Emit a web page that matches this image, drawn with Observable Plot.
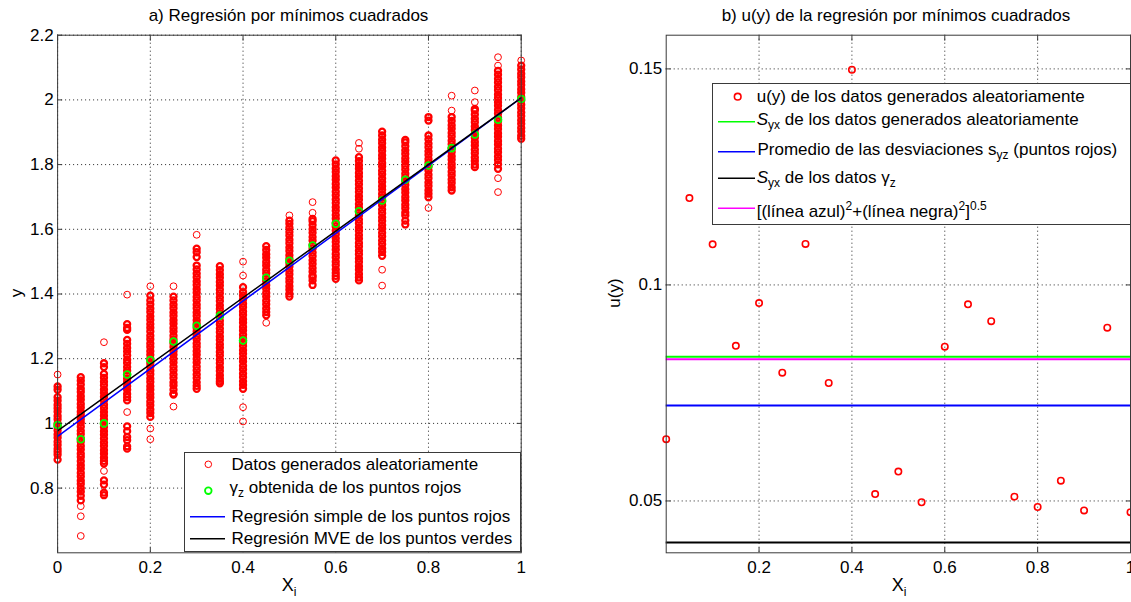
<!DOCTYPE html>
<html><head><meta charset="utf-8">
<script src="https://cdn.jsdelivr.net/npm/d3@7"></script>
<script src="https://cdn.jsdelivr.net/npm/@observablehq/plot@0.6"></script>
<style>
html,body{margin:0;padding:0;background:#fff;}
#root{position:relative;width:1131px;height:602px;overflow:hidden;font-family:"Liberation Sans",Arial,sans-serif;font-size:17px;color:#000;}
.t{position:absolute;white-space:nowrap;line-height:20px;height:20px;}
.box{position:absolute;background:#fff;border:1px solid #3a3a3a;box-sizing:border-box;}
sub,sup{font-size:12px;line-height:0;}
.plotwrap{position:absolute;top:0;}
</style></head><body><div id="root"></div>
<script>
// ---------------- data ----------------
const xVals = [0,0.05,0.1,0.15,0.2,0.25,0.3,0.35,0.4,0.45,0.5,0.55,0.6,0.65,0.7,0.75,0.8,0.85,0.9,0.95,1];
const redY = [
 [1.151,1.114,1.104,1.081,1.07,1.057,1.047,1.036,1.023,1.013,1.0,0.99,0.978,0.966,0.956,0.943,0.933,0.921,0.912,0.903,0.888],
 [1.143,1.132,1.12,1.107,1.097,1.084,1.073,1.06,1.049,1.036,1.026,1.013,1.002,0.99,0.977,0.967,0.954,0.943,0.93,0.919,0.906,0.896,0.883,0.871,0.86,0.847,0.836,0.823,0.813,0.8,0.789,0.776,0.762,0.744,0.713,0.652],
 [1.251,1.186,1.174,1.153,1.141,1.129,1.118,1.105,1.094,1.082,1.071,1.058,1.047,1.035,1.024,1.012,1.0,0.989,0.976,0.965,0.953,0.941,0.93,0.917,0.906,0.894,0.884,0.876,0.853,0.824,0.811,0.786,0.778],
 [1.398,1.307,1.295,1.289,1.258,1.246,1.233,1.222,1.21,1.197,1.187,1.174,1.163,1.151,1.138,1.128,1.115,1.104,1.091,1.081,1.071,1.035,0.991,0.976,0.958,0.948,0.929,0.922],
 [1.424,1.395,1.38,1.368,1.355,1.344,1.331,1.32,1.307,1.296,1.284,1.271,1.26,1.247,1.236,1.223,1.212,1.2,1.187,1.176,1.163,1.152,1.139,1.128,1.115,1.104,1.091,1.08,1.067,1.056,1.043,1.032,1.02,0.984,0.951],
 [1.424,1.392,1.38,1.367,1.356,1.343,1.332,1.319,1.308,1.295,1.284,1.271,1.26,1.247,1.236,1.223,1.212,1.199,1.188,1.175,1.164,1.151,1.14,1.127,1.117,1.104,1.092,1.089,1.052],
 [1.583,1.54,1.529,1.514,1.488,1.476,1.463,1.452,1.439,1.428,1.415,1.404,1.391,1.38,1.367,1.356,1.343,1.332,1.319,1.308,1.295,1.284,1.271,1.26,1.247,1.236,1.223,1.212,1.199,1.188,1.175,1.164,1.151,1.14,1.127,1.116,1.107],
 [1.486,1.474,1.461,1.45,1.437,1.426,1.413,1.402,1.389,1.378,1.365,1.354,1.341,1.33,1.317,1.306,1.293,1.282,1.269,1.258,1.245,1.234,1.221,1.21,1.197,1.186,1.173,1.162,1.149,1.138,1.13,1.124],
 [1.5,1.457,1.421,1.406,1.395,1.383,1.37,1.359,1.346,1.335,1.322,1.311,1.298,1.287,1.274,1.263,1.25,1.239,1.226,1.215,1.202,1.191,1.178,1.167,1.154,1.143,1.13,1.119,1.107,1.05,1.006],
 [1.548,1.536,1.523,1.512,1.499,1.488,1.475,1.464,1.451,1.44,1.427,1.416,1.403,1.392,1.379,1.368,1.355,1.344,1.334,1.311],
 [1.643,1.627,1.617,1.605,1.592,1.581,1.568,1.557,1.544,1.533,1.52,1.509,1.496,1.485,1.472,1.461,1.448,1.437,1.424,1.413,1.401,1.392],
 [1.684,1.651,1.632,1.625,1.613,1.6,1.589,1.576,1.565,1.552,1.541,1.528,1.517,1.504,1.493,1.48,1.469,1.457,1.452,1.442,1.428],
 [1.813,1.801,1.788,1.777,1.764,1.753,1.74,1.729,1.716,1.705,1.692,1.681,1.668,1.657,1.644,1.633,1.62,1.609,1.596,1.585,1.572,1.561,1.548,1.537,1.524,1.513,1.5,1.489,1.476,1.465,1.456,1.447],
 [1.867,1.849,1.823,1.811,1.798,1.787,1.774,1.763,1.75,1.739,1.726,1.715,1.702,1.691,1.678,1.667,1.654,1.643,1.63,1.619,1.606,1.595,1.582,1.571,1.558,1.547,1.534,1.523,1.51,1.499,1.486,1.475,1.462,1.451,1.442],
 [1.902,1.89,1.877,1.866,1.853,1.842,1.829,1.818,1.805,1.794,1.781,1.77,1.757,1.746,1.733,1.722,1.709,1.698,1.685,1.674,1.661,1.65,1.637,1.626,1.613,1.602,1.589,1.578,1.565,1.554,1.541,1.53,1.518,1.475,1.426],
 [1.876,1.869,1.857,1.844,1.833,1.82,1.809,1.796,1.785,1.772,1.761,1.748,1.737,1.724,1.713,1.7,1.689,1.676,1.665,1.652,1.643,1.627,1.615],
 [1.947,1.936,1.89,1.878,1.865,1.854,1.841,1.83,1.817,1.806,1.793,1.782,1.769,1.758,1.745,1.734,1.721,1.71,1.699,1.666],
 [2.013,1.967,1.947,1.935,1.922,1.911,1.898,1.887,1.874,1.863,1.85,1.839,1.826,1.815,1.802,1.791,1.778,1.767,1.754,1.743,1.73,1.72],
 [2.029,1.993,1.972,1.967,1.955,1.942,1.931,1.918,1.907,1.894,1.883,1.87,1.859,1.846,1.835,1.822,1.811,1.8,1.792],
 [2.132,2.106,2.09,2.078,2.065,2.054,2.041,2.03,2.017,2.006,1.993,1.982,1.969,1.958,1.945,1.934,1.921,1.91,1.897,1.886,1.873,1.862,1.849,1.838,1.825,1.814,1.801,1.787,1.758,1.715],
 [2.122,2.106,2.094,2.081,2.07,2.057,2.046,2.033,2.022,2.009,1.998,1.985,1.974,1.961,1.95,1.937,1.926,1.913,1.902,1.889,1.88]
];
const greenY = [0.995,0.951,1.0,1.151,1.196,1.253,1.302,1.333,1.256,1.45,1.503,1.55,1.617,1.656,1.689,1.753,1.797,1.851,1.893,1.939,2.003];
const lineX = [0, 1];
const blueY = [0.960, 2.006];
const blackY = [0.977, 2.006];
const uY = [0.0643,0.1201,0.1094,0.0859,0.0958,0.0797,0.1095,0.0773,0.1498,0.0516,0.0568,0.0497,0.0857,0.0955,0.0916,0.0510,0.0486,0.0547,0.0478,0.0901,0.0474];
const syxRandom = 0.0834;   // green
const meanSyz = 0.0721;     // blue
const syxGamma = 0.0404;    // black
const combined = 0.0828;    // magenta
const leftXTicks = [0,0.2,0.4,0.6,0.8,1];
const leftYTicks = [0.8,1,1.2,1.4,1.6,1.8,2,2.2];
const rightXTicks = [0.2,0.4,0.6,0.8,1];
const rightYTicks = [0.05,0.1,0.15];

// ---------------- drawing ----------------
const FONT = '"Liberation Sans", Arial, sans-serif';
const fmt = d => String(+(+d).toFixed(3));
const gridStyle = {stroke: "#000", strokeOpacity: 0.85, strokeDasharray: "1,3", strokeWidth: 1};
const root = document.getElementById("root");

function tickMarks(xt, yt) {
  const o = {tickSize: -5, tickFormat: () => "", stroke: "#3a3a3a", label: null};
  return [
    Plot.axisX(xt, {...o, anchor: "bottom"}),
    Plot.axisX(xt, {...o, anchor: "top"}),
    Plot.axisY(yt, {...o, anchor: "left"}),
    Plot.axisY(yt, {...o, anchor: "right"})
  ];
}

// red points; those packed inside a dense band overlap into a solid column, as in the original
const redData = xVals.flatMap((x, i) => {
  const col = redY[i];
  return col.map(y => ({x, y, dense: col.some(v => v !== y && Math.abs(v - y) < 0.016)}));
});

const left = Plot.plot({
  width: 560, height: 602,
  marginLeft: 57.1, marginRight: 39.3, marginTop: 34.7, marginBottom: 49.7,
  style: {fontFamily: FONT, fontSize: "17px", background: "transparent", overflow: "visible", color: "#000"},
  x: {domain: [0, 1]},
  y: {domain: [0.6, 2.2]},
  marks: [
    Plot.gridX(leftXTicks, gridStyle),
    Plot.gridY(leftYTicks, gridStyle),
    Plot.dot(redData.filter(d => !d.dense), {x: "x", y: "y", r: 3.4, stroke: "#ff0000", strokeWidth: 1}),
    Plot.dot(redData.filter(d => d.dense), {x: "x", y: "y", r: 3.0, stroke: "#ff0000", strokeWidth: 2.3}),
    Plot.dot(xVals, {x: d => d, y: (d, i) => greenY[i], r: 3.4, stroke: "#00ff00", strokeWidth: 1.8}),
    Plot.line(lineX, {x: d => d, y: (d, i) => blueY[i], stroke: "#0000ff", strokeWidth: 1.5}),
    Plot.line(lineX, {x: d => d, y: (d, i) => blackY[i], stroke: "#000000", strokeWidth: 1.5}),
    ...tickMarks(leftXTicks, leftYTicks),
    Plot.frame({stroke: "#3a3a3a"}),
    Plot.axisX(leftXTicks, {tickSize: 0, tickPadding: 8, tickFormat: fmt, label: null}),
    Plot.axisY(leftYTicks, {tickSize: 0, tickPadding: 4, tickFormat: fmt, label: null})
  ]
});

const right = Plot.plot({
  width: 571, height: 602,
  marginLeft: 105.7, marginRight: 1, marginTop: 34.7, marginBottom: 49.7,
  style: {fontFamily: FONT, fontSize: "17px", background: "transparent", overflow: "hidden", color: "#000"},
  x: {domain: [0, 1]},
  y: {domain: [0.038, 0.1578]},
  marks: [
    Plot.gridX(rightXTicks, gridStyle),
    Plot.gridY(rightYTicks, gridStyle),
    Plot.dot(xVals, {x: d => d, y: (d, i) => uY[i], r: 3.2, stroke: "#ff0000", strokeWidth: 1.6}),
    Plot.ruleY([syxRandom], {stroke: "#00ff00", strokeWidth: 2}),
    Plot.ruleY([meanSyz], {stroke: "#0000ff", strokeWidth: 2}),
    Plot.ruleY([syxGamma], {stroke: "#000000", strokeWidth: 2}),
    Plot.ruleY([combined], {stroke: "#ff00ff", strokeWidth: 2}),
    ...tickMarks(rightXTicks, rightYTicks),
    Plot.frame({stroke: "#3a3a3a"}),
    Plot.axisX(rightXTicks, {tickSize: 0, tickPadding: 8, tickFormat: fmt, label: null}),
    Plot.axisY(rightYTicks, {tickSize: 0, tickPadding: 4, tickFormat: fmt, label: null})
  ]
});

function wrap(node, x) {
  const d = document.createElement("div");
  d.className = "plotwrap";
  d.style.left = x + "px";
  d.appendChild(node);
  root.appendChild(d);
}
wrap(left, 0);
wrap(right, 560);

function text(html, x, cy, opts = {}) {
  const d = document.createElement("div");
  d.className = "t";
  d.innerHTML = html;
  d.style.top = (cy - 10) + "px";
  d.style.left = x + "px";
  if (opts.center) d.style.transform = "translateX(-50%)";
  if (opts.rotate) d.style.transform = "translateX(-50%) rotate(-90deg)";
  root.appendChild(d);
  return d;
}
function box(x, y, w, h) {
  const d = document.createElement("div");
  d.className = "box";
  Object.assign(d.style, {left: x + "px", top: y + "px", width: w + "px", height: h + "px"});
  root.appendChild(d);
}

// titles & axis labels
text("a) Regresión por mínimos cuadrados", 288.5, 16, {center: true});
text("b) u(y) de la regresión por mínimos cuadrados", 896, 16, {center: true});
text("y", 17, 293, {rotate: true});
text("u(y)", 615, 293, {rotate: true});
text("X<sub>i</sub>", 289, 585, {center: true}).style.fontSize = "18px";
text("X<sub>i</sub>", 899, 585, {center: true}).style.fontSize = "18px";

// legends
box(183.6, 451.7, 337.1, 100.6);
box(711.5, 83.3, 419.5, 142);

const NS = "http://www.w3.org/2000/svg";
const sw = document.createElementNS(NS, "svg");
sw.setAttribute("width", 1131); sw.setAttribute("height", 602);
sw.style.position = "absolute"; sw.style.left = "0"; sw.style.top = "0"; sw.style.pointerEvents = "none";
root.appendChild(sw);
function circ(cx, cy, color, w) {
  const c = document.createElementNS(NS, "circle");
  c.setAttribute("cx", cx); c.setAttribute("cy", cy); c.setAttribute("r", 3.3);
  c.setAttribute("fill", "none"); c.setAttribute("stroke", color); c.setAttribute("stroke-width", w);
  sw.appendChild(c);
}
function seg(x1, x2, y, color) {
  const l = document.createElementNS(NS, "line");
  l.setAttribute("x1", x1); l.setAttribute("x2", x2); l.setAttribute("y1", y); l.setAttribute("y2", y);
  l.setAttribute("stroke", color); l.setAttribute("stroke-width", 1.5);
  sw.appendChild(l);
}

// left legend
circ(208.3, 464.3, "#ff0000", 1);
circ(208.3, 490.7, "#00ff00", 1.8);
seg(190, 225, 516.7, "#0000ff");
seg(190, 225, 538.7, "#000000");
text("Datos generados aleatoriamente", 231.5, 464.5);
text("γ<sub>z</sub> obtenida de los puntos rojos", 229.5, 488);
text("Regresión simple de los puntos rojos", 231.5, 517);
text("Regresión MVE de los puntos verdes", 231.5, 539);

// right legend
circ(737.7, 96.7, "#ff0000", 1.6);
seg(718, 755, 121.7, "#00ff00");
seg(718, 755, 151.7, "#0000ff");
seg(718, 755, 178.3, "#000000");
seg(718, 755, 208.3, "#ff00ff");
text("u(y) de los datos generados aleatoriamente", 756.7, 97);
text("<i>S</i><sub>yx</sub> de los datos generados aleatoriamente", 756.7, 120);
text("Promedio de las desviaciones s<sub>yz</sub> (puntos rojos)", 757.5, 150);
text("<i>S</i><sub>yx</sub> de los datos γ<sub>z</sub>", 756.7, 178);
text("[(línea azul)<sup>2</sup>+(línea negra)<sup>2</sup>]<sup>0.5</sup>", 756.7, 212);
</script></body></html>
